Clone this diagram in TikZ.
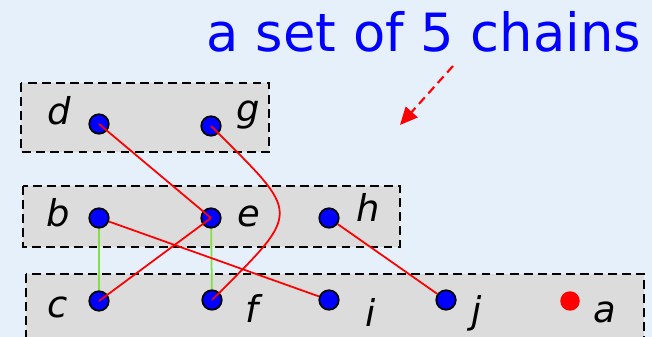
\documentclass[tikz,border=0pt]{standalone}
\usepackage{fontspec}
\setsansfont{DejaVu Sans}
\usetikzlibrary{arrows.meta, positioning}
\definecolor{chainbg}{HTML}{E6F0FA}
\definecolor{chainbox}{HTML}{DCDCDC}
\definecolor{chainblue}{HTML}{0000FF}
\definecolor{chainred}{HTML}{FF0000}
\definecolor{chaingreen}{HTML}{80E040}

\begin{document}
\begin{tikzpicture}[x=0.02cm, y=-0.02cm, font=\sffamily,
  elem/.style={circle, fill=chainblue, draw=black, line width=1pt,
    minimum size=0.39cm, inner sep=0pt},
  lonely/.style={circle, fill=chainred, minimum size=0.39cm, inner sep=0pt},
  lbl/.style={font=\fontsize{21}{21}\selectfont\sffamily\itshape, anchor=base, inner sep=0pt},
  grp/.style={fill=chainbox, draw=black, dash pattern=on 5pt off 3pt, line width=1pt},
  link/.style={chainred, line width=1pt},
  same/.style={chaingreen, line width=1pt}]
  \fill[chainbg] (0,0) rectangle (652,337);
  \useasboundingbox (0,0) rectangle (652,337);

  % the three groups
  \draw[grp] (21,83) rectangle (269,152);
  \draw[grp] (23,186) rectangle (400,247);
  \draw[grp] (26,274) rectangle (644,345);

  % title and pointer
  \node[font=\fontsize{30}{30}\selectfont\sffamily, chainblue, anchor=base, inner sep=0pt]
    (title) at (424,52) {a set of 5 chains};
  \coordinate (tipfrom) at (453,66);
  \coordinate (tipto) at (400,125);
  \draw[chainred, line width=1.2pt, dash pattern=on 5pt off 3pt,
    -{Triangle[length=10pt, width=9pt]}] (tipfrom) -- (tipto);

  % green links below the dots
  \coordinate (b0) at (99,218);
  \coordinate (e0) at (211,218);
  \coordinate (c0) at (99,301);
  \coordinate (f0) at (212,300);
  \draw[same] (b0) -- (c0);
  \draw[same] (e0) -- (f0);

  % elements
  \foreach \n/\x/\y in {d/99/124, g/211/126, b/99/218, e/211/218, h/329/218,
      c/99/301, f/212/300, i/329/300, j/446/300}
    \node[elem] (\n) at (\x,\y) {};
  \node[lonely] (a) at (570,301) {};

  % labels
  \foreach \n/\x/\y in {d/59/125, g/248/122, b/58/227, e/249/227, h/368/222,
      c/58/317, f/252/322, i/371/327, j/477/323, a/605/322}
    \node[lbl] at (\x,\y) {\n};

  % red links
  \draw[link] (d.center) -- (e.center);
  \draw[link] (e.center) -- (c.center);
  \draw[link] (b) -- (i);
  \draw[link] (h) -- (j);
  \draw[link] (g.center) .. controls (302,217) and (303,209) .. (f.center);
\end{tikzpicture}
\end{document}
